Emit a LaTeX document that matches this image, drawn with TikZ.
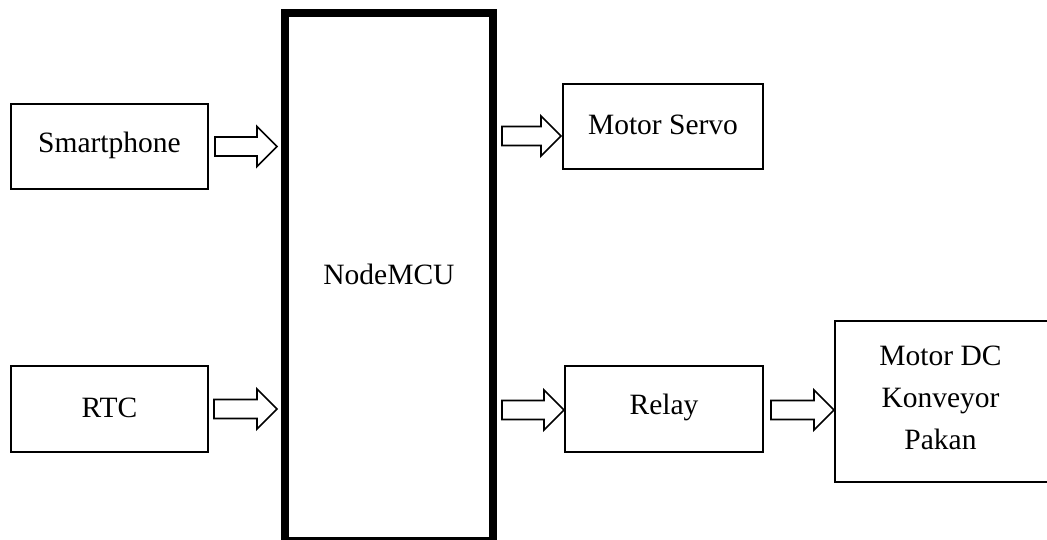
\documentclass[tikz,border=0pt]{standalone}
\usepackage{fontspec}
\setmainfont{Liberation Serif}
\usetikzlibrary{calc}
\tikzset{
  box/.style={draw, line width=2pt, rectangle, inner sep=0pt},
  mcubox/.style={draw, line width=8pt, rectangle, inner sep=0pt},
  lbl/.style={font=\fontsize{29.5}{42}\selectfont, anchor=base, yshift=1.5pt},
  fat/.style={draw, line width=1.7pt, fill=white, line join=miter,
    to path={let \p1=(\tikztostart), \p2=(\tikztotarget) in
      (\x1,\y1+9.5pt) -- (\x2-20pt,\y1+9.5pt) -- (\x2-20pt,\y1+20pt) -- (\x2,\y1)
      -- (\x2-20pt,\y1-20pt) -- (\x2-20pt,\y1-9.5pt) -- (\x1,\y1-9.5pt) -- cycle}}
}
\begin{document}
\begin{tikzpicture}[x=1pt,y=-1pt]
\useasboundingbox (0,0) rectangle (1047,540);
\clip (0,0) rectangle (1047,540);
\node[mcubox, minimum width=208pt, minimum height=528pt,
      label={[lbl, yshift=1.5pt]center:NodeMCU}] (mcu) at (389,277) {};
\node[box, minimum width=197pt, minimum height=85pt,
      label={[lbl]center:Smartphone}] (sm) at (109.5,146.5) {};
\node[box, minimum width=197pt, minimum height=86pt,
      label={[lbl]center:RTC}] (rtc) at (109.5,409) {};
\node[box, minimum width=200pt, minimum height=85pt,
      label={[lbl]center:Motor Servo}] (servo) at (663,126.5) {};
\node[box, minimum width=198pt, minimum height=86pt,
      label={[lbl]center:Relay}] (relay) at (664,409) {};
\node[box, minimum width=215pt, minimum height=161pt,
      label={[font=\fontsize{29.5}{42}\selectfont, align=center, anchor=center, xshift=-2pt, yshift=4pt]center:{Motor DC\\Konveyor\\Pakan}}] (dc) at (942.5,401.5) {};
% arrow end points
\coordinate (a1s) at ($(sm.east)+(6,0)$);
\coordinate (a1e) at ($(mcu.west|-sm.east)+(-4,0)$);
\coordinate (a2s) at ($(rtc.east)+(5,0)$);
\coordinate (a2e) at ($(mcu.west|-rtc.east)+(-4,0)$);
\coordinate (a3e) at ($(servo.west)+(-1,9.5)$);
\coordinate (a3s) at ($(mcu.east|-a3e)+(5,0)$);
\coordinate (a4e) at ($(relay.west)+(0,1)$);
\coordinate (a4s) at ($(mcu.east|-a4e)+(5,0)$);
\coordinate (a5s) at ($(relay.east)+(7,1)$);
\coordinate (a5e) at (dc.west|-a5s);
\draw[fat] (a1s) to (a1e);
\draw[fat] (a2s) to (a2e);
\draw[fat] (a3s) to (a3e);
\draw[fat] (a4s) to (a4e);
\draw[fat] (a5s) to (a5e);
\end{tikzpicture}
\end{document}
